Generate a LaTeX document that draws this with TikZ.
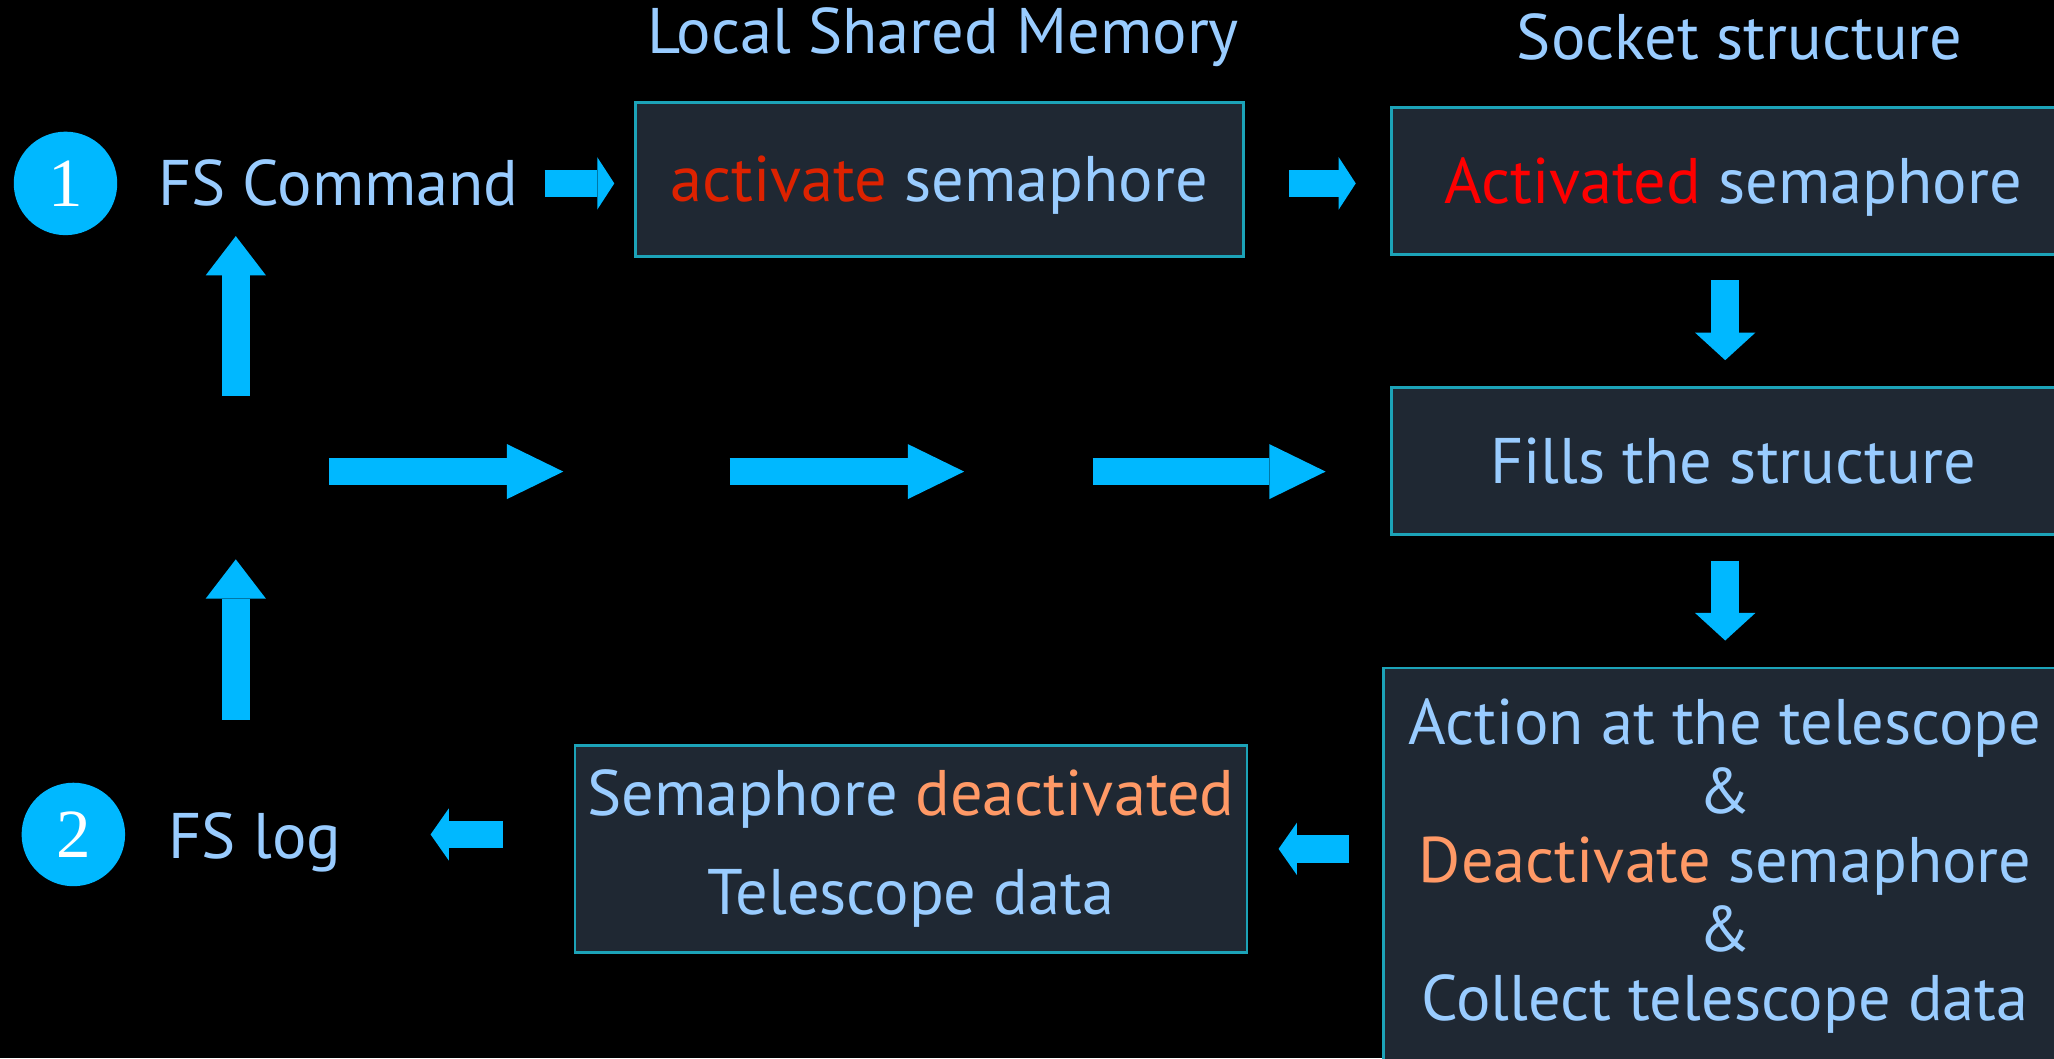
\documentclass[tikz,border=0pt]{standalone}
\usepackage{fontspec}
\setmainfont{PT Sans}
\newfontfamily\digitfont{Liberation Serif}
\usetikzlibrary{arrows.meta}
\definecolor{Canvas}{HTML}{000000}
\definecolor{Slate}{HTML}{1F2833}
\definecolor{Edge}{HTML}{1CA3B8}
\definecolor{Flow}{HTML}{00B8FF}
\definecolor{Sky}{HTML}{99CCFF}
\definecolor{Brick}{HTML}{DD2200}
\definecolor{Alert}{HTML}{FF0000}
\definecolor{Peach}{HTML}{FF9966}
\begin{document}
\begin{tikzpicture}[font=\fontsize{14}{15}\selectfont,stepbox/.style={draw=Edge, fill=Slate, line width=0.6pt, text=Sky, inner sep=0pt},oneline/.style={text height=0.34cm, text depth=0pt},badge/.style={circle, fill=Flow, minimum size=0.79cm, inner sep=0pt, text=white, font=\digitfont\fontsize{15}{15}\selectfont},labeltext/.style={text=Sky, anchor=west, inner sep=0pt},headtext/.style={text=Sky},flow/.style 2 args={draw=Flow, line width=0.21cm, -{Triangle[width=#1, length=#2, line width=0pt]}}]
\useasboundingbox (0,0) rectangle (15.68,-8.08);
\fill[Canvas] (0,0) rectangle (15.68,-8.08);
\node[headtext] (lsmtitle) at (7.20,-0.28) {Local Shared Memory};
\node[headtext] (socktitle) at (13.28,-0.28) {Socket structure};
\node[badge] (one) at (0.50,-1.40) {1};
\node[labeltext] (cmd) at (1.20,-1.40) {FS Command};
\node[stepbox, oneline, minimum width=4.64cm, minimum height=1.18cm] (act) at (7.17,-1.37) {\textcolor{Brick}{activate} semaphore};
\node[stepbox, oneline, minimum width=5.22cm, minimum height=1.12cm] (actd) at (13.23,-1.38) {\textcolor{Alert}{Activated} semaphore};
\node[stepbox, oneline, minimum width=5.22cm, minimum height=1.12cm] (filled) at (13.23,-3.52) {Fills the structure};
\node[stepbox, minimum width=5.22cm, minimum height=3.02cm, align=center] (work) at (13.17,-6.61) {Action at the telescope\\\&\\\textcolor{Peach}{Deactivate} semaphore\\\&\\Collect telescope data};
\node[stepbox, minimum width=5.13cm, minimum height=1.58cm, align=center] (done) at (6.955,-6.48) {Semaphore \textcolor{Peach}{deactivated}\\[0.23cm]Telescope data};
\node[badge] (two) at (0.56,-6.37) {2};
\node[labeltext] (log) at (1.28,-6.43) {FS log};
\coordinate (hub) at (1.80,-3.60);
\coordinate (relay1) at (4.94,-3.60);
\coordinate (relay2) at (7.85,-3.60);
\draw[flow={0.40cm}{0.13cm}, shorten <=3.255cm, shorten >=0.15cm] (one.east) -- (one.east -| act.west);
\draw[flow={0.40cm}{0.13cm}, shorten <=0.34cm, shorten >=0.26cm] (act.east |- one.east) -- (actd.west |- one.east);
\draw[flow={0.46cm}{0.21cm}, shorten <=0.19cm, shorten >=0.20cm] ([xshift=-0.06cm]actd.south) -- ([xshift=-0.06cm]filled.north);
\draw[flow={0.46cm}{0.21cm}, shorten <=0.19cm, shorten >=0.20cm] ([xshift=-0.06cm]filled.south) -- ([xshift=-0.06cm]filled.south |- work.north);
\draw[flow={0.40cm}{0.14cm}, shorten <=0.25cm, shorten >=0.23cm] (work.west |- done.east) -- (done.east);
\draw[flow={0.40cm}{0.14cm}, shorten <=0.54cm, shorten >=2.325cm] (done.west |- two.east) -- (two.east);
\draw[flow={0.46cm}{0.30cm}, shorten <=0.58cm] (hub) -- (hub |- one.south);
\draw[flow={0.46cm}{0.30cm}, shorten <=0.475cm, shorten >=0.67cm] (hub |- two.north) -- (hub);
\draw[flow={0.42cm}{0.43cm}, shorten <=0.71cm, shorten >=0.64cm] (hub) -- (relay1);
\draw[flow={0.42cm}{0.43cm}, shorten <=0.63cm, shorten >=0.49cm] (relay1) -- (relay2);
\draw[flow={0.42cm}{0.43cm}, shorten <=0.49cm, shorten >=0.49cm] (relay2) -- (relay2 -| filled.west);
\end{tikzpicture}
\end{document}
